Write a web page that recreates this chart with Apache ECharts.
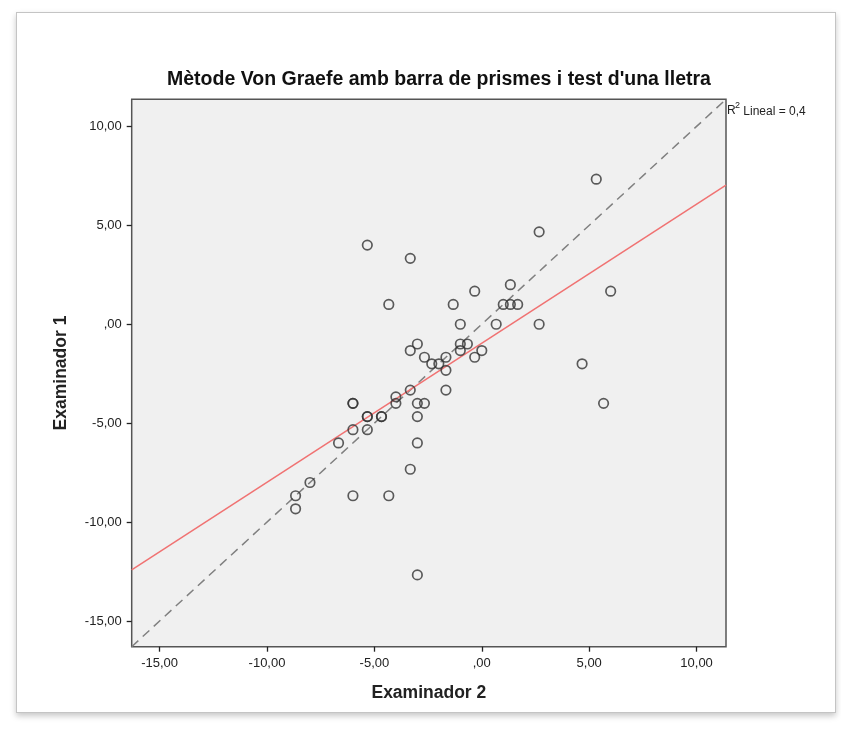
<!DOCTYPE html>
<html><head><meta charset="utf-8">
<script src="https://cdn.jsdelivr.net/npm/echarts@6/dist/echarts.min.js"></script>
<style>
html,body{margin:0;padding:0;background:#fff;}
#panel{position:absolute;left:16px;top:12px;width:818px;height:699px;background:#fff;border:1px solid #c4c4c4;box-shadow:0 3px 6px rgba(0,0,0,0.22);}
#c{position:absolute;left:0;top:0;width:841px;height:740px;}
</style>
</head><body><div id="panel"></div><div id="c"></div>
<script>
// Examinador 2 (x) and Examinador 1 (y)
const examinador2 = [5.33, 2.67, -5.33, -3.33, 1.33, 6.0, -0.33, -4.33, -1.33, 1.0, 1.33, 1.67,
  -1.0, 0.67, 2.67, -3.0, -3.33, -1.0, -0.67, -1.0, 0.0, -0.33, -2.67, -1.67, -2.33, -2.0, -1.67,
  4.67, -1.67, -3.33, -4.0, -4.0, -3.0, -2.67, 5.67, -6.0, -6.0, -3.0, -5.33, -5.33, -4.67, -4.67,
  -6.0, -5.33, -6.67, -3.0, -3.33, -8.0, -8.67, -6.0, -4.33, -8.67, -3.0];
const examinador1 = [7.33, 4.67, 4.0, 3.33, 2.0, 1.67, 1.67, 1.0, 1.0, 1.0, 1.0, 1.0,
  0.0, 0.0, 0.0, -1.0, -1.33, -1.0, -1.0, -1.33, -1.33, -1.67, -1.67, -1.67, -2.0, -2.0, -2.33,
  -2.0, -3.33, -3.33, -3.67, -4.0, -4.0, -4.0, -4.0, -4.0, -4.0, -4.67, -4.67, -4.67, -4.67, -4.67,
  -5.33, -5.33, -6.0, -6.0, -7.33, -8.0, -8.67, -8.67, -8.67, -9.33, -12.67];
const tickValues = [-15, -10, -5, 0, 5, 10];
const axisMin = -16.3, axisMax = 11.37;
const r2Text = ' Lineal = 0,4';

const points = examinador2.map((x, i) => [x, examinador1[i]]);
// least-squares fit
const n = points.length;
const mx = examinador2.reduce((a, b) => a + b, 0) / n;
const my = examinador1.reduce((a, b) => a + b, 0) / n;
let sxy = 0, sxx = 0;
for (let i = 0; i < n; i++) { sxy += (examinador2[i] - mx) * (examinador1[i] - my); sxx += (examinador2[i] - mx) ** 2; }
const slope = sxy / sxx, intercept = my - slope * mx;
const fitLine = [[axisMin, intercept + slope * axisMin], [axisMax, intercept + slope * axisMax]];
const refLine = [[axisMin, axisMin], [axisMax, axisMax]];

function fmt(v) {
  let s = Math.abs(v).toFixed(2).replace('.', ',');
  if (s.charAt(0) === '0') s = s.slice(1);
  return (v < 0 ? '-' : '') + s;
}
const FONT = '"Liberation Sans", Arial, sans-serif';
const axisCommon = {
  type: 'value', min: axisMin, max: axisMax,
  splitLine: { show: false },
  axisLine: { show: false, onZero: false },
  axisTick: { show: true, length: 5, customValues: tickValues, lineStyle: { color: '#222', width: 1.3 } },
  axisLabel: { customValues: tickValues, formatter: fmt, color: '#222', fontSize: 13, fontFamily: FONT },
  nameLocation: 'middle',
  nameTextStyle: { fontSize: 17.5, fontWeight: 'bold', color: '#222', fontFamily: FONT }
};

const chart = echarts.init(document.getElementById('c'));
chart.setOption({
  animation: false,
  title: {
    text: 'Mètode Von Graefe amb barra de prismes i test d\'una lletra',
    left: 434, top: 65, textAlign: 'center',
    textStyle: { fontSize: 19.5, fontWeight: 'bold', color: '#111', fontFamily: FONT }
  },
  grid: {
    left: 131.7, top: 99.3, right: 115, bottom: 93.3,
    show: true, backgroundColor: '#f0f0f0', borderColor: '#555', borderWidth: 1.5
  },
  xAxis: Object.assign({}, axisCommon, { name: 'Examinador 2', nameGap: 37,
    axisLabel: Object.assign({}, axisCommon.axisLabel, { margin: 10 }) }),
  yAxis: Object.assign({}, axisCommon, { name: 'Examinador 1', nameGap: 62,
    axisLabel: Object.assign({}, axisCommon.axisLabel, { margin: 10 }) }),
  graphic: [
    { type: 'text', left: 727, top: 105, style: { text: 'R', fontSize: 12, fill: '#222', fontFamily: FONT } },
    { type: 'text', left: 735, top: 101, style: { text: '2', fontSize: 9, fill: '#222', fontFamily: FONT } },
    { type: 'text', left: 740, top: 106, style: { text: r2Text, fontSize: 12, fill: '#222', fontFamily: FONT } }
  ],
  series: [
    { type: 'line', data: refLine, symbol: 'none', silent: true,
      lineStyle: { color: '#808080', width: 1.5, type: [9, 6] }, z: 2 },
    { type: 'line', data: fitLine, symbol: 'none', silent: true,
      lineStyle: { color: '#f07272', width: 1.5 }, z: 3 },
    { type: 'scatter', data: points, symbol: 'circle', symbolSize: 9.5,
      itemStyle: { color: 'rgba(0,0,0,0)', borderColor: '#333', borderWidth: 1.7 }, z: 4 }
  ]
});
</script>
</body></html>
